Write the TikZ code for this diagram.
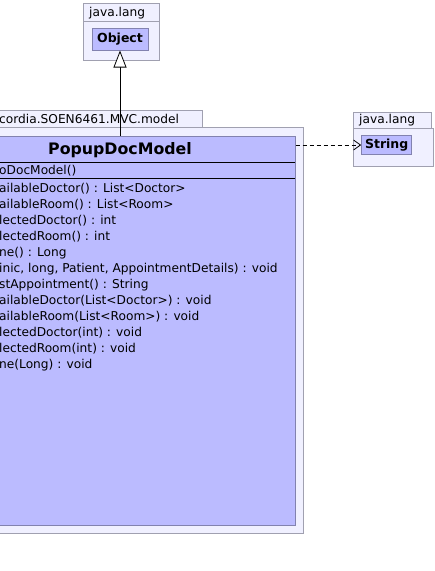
\documentclass[tikz,border=0pt]{standalone}
\usepackage{fontspec}
\setmainfont{DejaVu Sans}
\usetikzlibrary{arrows.meta}
\definecolor{clsfill}{RGB}{187,187,255}
\definecolor{clsdraw}{RGB}{130,130,175}
\definecolor{pkgfill}{RGB}{240,240,255}
\definecolor{pkgdraw}{RGB}{160,160,176}
\tikzset{
  pkg/.style={draw=pkgdraw, fill=pkgfill, line width=1pt},
  cls/.style={draw=clsdraw, fill=clsfill, line width=1pt, inner sep=0pt},
  mtxt/.style={anchor=base west, inner sep=0pt, font=\fontsize{12.2}{13}\selectfont},
  lbl/.style={anchor=base west, inner sep=0pt, font=\fontsize{12.2}{13}\selectfont},
  cname/.style={font=\bfseries\fontsize{12.5}{13}\selectfont},
}
\begin{document}
\begin{tikzpicture}[x=1pt,y=-1pt]
\useasboundingbox (0,0) rectangle (435,571);
\clip (0,0) rectangle (435,571);
\fill[white] (0,0) rectangle (435,571);
% java.lang (Object)
\draw[pkg] (83,3) rectangle (159,21);
\draw[pkg] (83,21) rectangle (159,60);
\node[lbl] (pk1) at (89,16.5) {java.lang};
\node[cls, cname, minimum width=56pt, minimum height=22pt] (obj) at (120,39) {Object};
% model package
\draw[pkg] (-70,110) rectangle (202,127);
\draw[pkg] (-70,127) rectangle (303,533);
\node[lbl] (pk2) at (-1,123.5) {cordia.SOEN6461.MVC.model};
% java.lang (String)
\draw[pkg] (353,112) rectangle (431,128);
\draw[pkg] (353,128) rectangle (433,166.5);
\node[lbl] (pk3) at (359,123.5) {java.lang};
\node[cls, cname, minimum width=50pt, minimum height=18.5pt] (str) at (386.7,145) {String};
% class
\node[cls, minimum width=350pt, minimum height=389pt] (pdm) at (120,330.5) {};
\draw[black, line width=0.8pt] (-55,162) -- (295,162);
\draw[black, line width=0.8pt] (-55,178) -- (295,178);
\node[anchor=base, inner sep=0pt, font=\bfseries\fontsize{15.8}{17}\selectfont] (nm) at (120,154) {PopupDocModel};
\node[mtxt] (c0) at (-1,174.5) {oDocModel()};
\node[mtxt] (m1) at (-1,192) {ailableDoctor() : List<Doctor>};
\node[mtxt] (m2) at (-1,208) {ailableRoom() : List<Room>};
\node[mtxt] (m3) at (-1,224) {lectedDoctor() : int};
\node[mtxt] (m4) at (-1,240) {lectedRoom() : int};
\node[mtxt] (m5) at (-1,256) {ne() : Long};
\node[mtxt] (m6) at (-1,272) {inic, long, Patient, AppointmentDetails) : void};
\node[mtxt] (m7) at (-1,288) {stAppointment() : String};
\node[mtxt] (m8) at (-1,304) {ailableDoctor(List<Doctor>) : void};
\node[mtxt] (m9) at (-1,320) {ailableRoom(List<Room>) : void};
\node[mtxt] (m10) at (-1,336) {lectedDoctor(int) : void};
\node[mtxt] (m11) at (-1,352) {lectedRoom(int) : void};
\node[mtxt] (m12) at (-1,368) {ne(Long) : void};
% connectors
\draw[black, line width=0.8pt, -{Triangle[open, length=17pt, width=13pt, fill=white]}] (pdm.north) -- (obj.south);
\draw[black, line width=0.8pt, dash pattern=on 4pt off 3pt, -{Straight Barb[length=7pt, width=10pt]}] (pdm.east |- str.west) -- (str.west);
\end{tikzpicture}
\end{document}
